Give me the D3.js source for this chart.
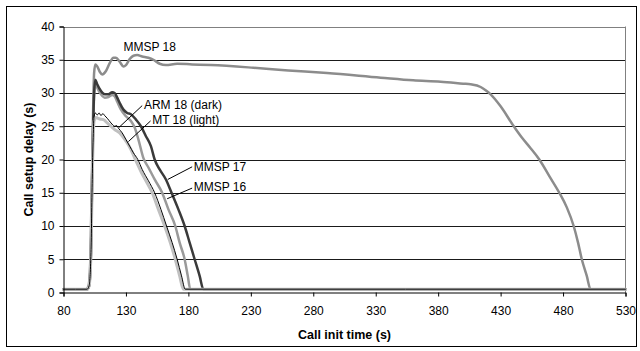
<!DOCTYPE html>
<html><head><meta charset="utf-8">
<script src="https://cdn.jsdelivr.net/npm/d3@7"></script>
<style>
body{margin:0;background:#fff;}
svg text{font-family:"Liberation Sans",Arial,sans-serif;}
</style></head>
<body><svg id="c" width="640" height="351"></svg>
<script>
const xTicks = [80,130,180,230,280,330,380,430,480,530];
const yTicks = [0,5,10,15,20,25,30,35,40];

const mmsp18 = [[80,0.5],[98,0.5],[100,1],[101.5,5],[103,20],[104.5,33],[105.5,34.3],[107,34],[109,33.2],[111,32.8],[114,33.3],[117,34.5],[120,35.3],[122,35.3],[125,34.7],[128,34.0],[130,34.2],[133,35.1],[136,35.6],[139,35.7],[143,35.5],[148,35.3],[152,35.0],[157,34.4],[162,34.2],[171,34.4],[183,34.3],[198,34.2],[232,33.8],[260,33.4],[291,33.0],[334,32.3],[360,31.9],[382,31.7],[400,31.4],[406,31.3],[414,30.9],[418,30.4],[422,29.8],[430,28],[440.5,25],[447,23.3],[454,21.7],[461,20],[469,17.5],[477,15],[483,12.8],[488.5,10],[492,7.5],[495,5],[499,2.5],[502,0.5],[530,0.5]];
const mmsp17 = [[80,0.5],[99,0.5],[100.5,1],[102,6],[103,18],[104.5,30],[105.5,32],[107,31.3],[110,30.3],[113,29.8],[116,29.8],[119,30.1],[121,30.0],[123,29.3],[125,28.5],[128,27.5],[131,27.0],[134,26.8],[138,26.0],[142,25.0],[146,23.5],[150,22.0],[153,20],[157,18.5],[162,17],[166.5,15],[172,12.5],[177,10],[181,7.5],[185,5],[189,2.5],[192,0.5],[530,0.5]];
const mmsp16 = [[80,0.5],[99,0.5],[100.5,1],[102,6],[103,18],[104.5,29.5],[105.5,31.5],[107,30.8],[110,29.8],[113,29.3],[116,29.4],[119,29.7],[121,29.5],[123,28.7],[126,27.5],[130,26.5],[134,25.8],[137,24.8],[140,23],[144,20.2],[148,18.8],[153,17],[159,15],[164,12.5],[169.5,10],[173,7.5],[177,5],[179.5,2.5],[181.5,0.5],[530,0.5]];
const arm18 = [[80,0.5],[99,0.5],[100.5,1],[102,6],[103,17],[104.5,26.5],[105.5,27],[107,26.7],[108.5,27],[110,26.6],[111.5,26.9],[113,26.6],[115,26.2],[118,25.5],[121,25.0],[122.5,25.1],[124,24.7],[127,24],[130,23],[133,22],[136,21],[139.5,20],[143,18.5],[148,16.8],[153,15],[158,12.5],[162.5,10],[167,7.5],[171,5],[174.5,2.5],[177.5,0.5],[530,0.5]];
const mt18 = [[80,0.5],[99,0.5],[100.5,1],[102,6],[103,17],[104.5,25.8],[106,26.3],[109,26.1],[112,26.0],[115,25.5],[118,25],[121,24.5],[125,24],[128,23.3],[131,22.5],[134,21.5],[137.5,20],[142,18.2],[146,16.8],[151,15],[156,12.5],[161,10],[165.5,7.5],[169.5,5],[173,2.5],[176,0.5],[530,0.5]];

const seriesNames = ["MMSP 18","MMSP 16","MMSP 17","MT 18","ARM 18"];
const seriesData = [mmsp18, mmsp16, mmsp17, mt18, arm18];
const seriesColors = ["#8c8c8c","#9a9a9a","#3a3a3a","#c0c0c0","#000000"];
const seriesWidths = [2.5,2.5,2.5,3,1];

// annotations: label, text anchor (data), leader start, leader end (data)
const annLabels = ["MMSP 18","ARM 18 (dark)","MT 18 (light)","MMSP 17","MMSP 16"];
const annText = [[128,36.3],[144.4,27.6],[151,25.3],[184.3,18.3],[184.3,15.3]];
const annFrom = [null,[143,28.1],[149.7,25.8],[183,18.9],[183,15.7]];
const annTo = [null,[124.3,24.8],[132,22.7],[163.5,17.0],[163,14.1]];

const svg = d3.select("#c");
const L=63.5, R=625.5, T=26.5, B=292.5;
const x = d3.scaleLinear().domain([80,530]).range([L,R]);
const y = d3.scaleLinear().domain([0,40]).range([B,T]);

// outer border
svg.append("rect").attr("x",6.5).attr("y",6.5).attr("width",630).attr("height",340)
  .attr("fill","none").attr("stroke","#000").attr("stroke-width",1);

// gridlines
svg.append("g").selectAll("line").data(yTicks.filter(d=>d>0)).join("line")
  .attr("x1",L).attr("x2",R).attr("y1",d=>Math.round(y(d))+0.5).attr("y2",d=>Math.round(y(d))+0.5)
  .attr("stroke",d=>d===40?"#808080":"#1a1a1a").attr("stroke-width",1);
// right plot border
svg.append("line").attr("x1",R).attr("x2",R).attr("y1",T).attr("y2",B).attr("stroke","#808080");

// lines
const line = d3.line().x(d=>x(d[0])).y(d=>y(d[1])).curve(d3.curveMonotoneX);
svg.append("g").selectAll("path").data(seriesData).join("path")
  .attr("d",line).attr("fill","none")
  .attr("stroke",(d,i)=>seriesColors[i]).attr("stroke-width",(d,i)=>seriesWidths[i])
  .attr("stroke-linejoin","round").attr("stroke-linecap","round");

// axes
const xAxis = svg.append("g").attr("transform",`translate(0,${B})`)
  .call(d3.axisBottom(x).tickValues(xTicks).tickSize(4).tickPadding(10).tickFormat(d3.format("d")));
const yAxis = svg.append("g").attr("transform",`translate(${L},0)`)
  .call(d3.axisLeft(y).tickValues(yTicks).tickSize(4).tickPadding(5).tickFormat(d3.format("d")));
[xAxis,yAxis].forEach(a=>{
  a.select(".domain").attr("stroke","#000").attr("stroke-width",1);
  a.selectAll(".tick line").attr("stroke","#000");
  a.selectAll("text").attr("font-size",12).attr("fill","#000").style("font-family","'Liberation Sans',Arial,sans-serif");
});

// axis titles
svg.append("text").attr("x",(L+R)/2).attr("y",338.5).attr("text-anchor","middle")
  .attr("font-size",12.5).attr("font-weight","bold").text("Call init time (s)");
svg.append("text").attr("transform",`translate(33,${(T+B)/2}) rotate(-90)`).attr("text-anchor","middle")
  .attr("font-size",12.5).attr("font-weight","bold").text("Call setup delay (s)");

// annotations
annLabels.forEach((lab,i)=>{
  svg.append("text").attr("x",x(annText[i][0])).attr("y",y(annText[i][1]))
    .attr("font-size",12).attr("fill","#000").text(lab);
  if(annFrom[i]){
    svg.append("line").attr("x1",x(annFrom[i][0])).attr("y1",y(annFrom[i][1]))
      .attr("x2",x(annTo[i][0])).attr("y2",y(annTo[i][1])).attr("stroke","#000").attr("stroke-width",1);
  }
});
</script></body></html>
